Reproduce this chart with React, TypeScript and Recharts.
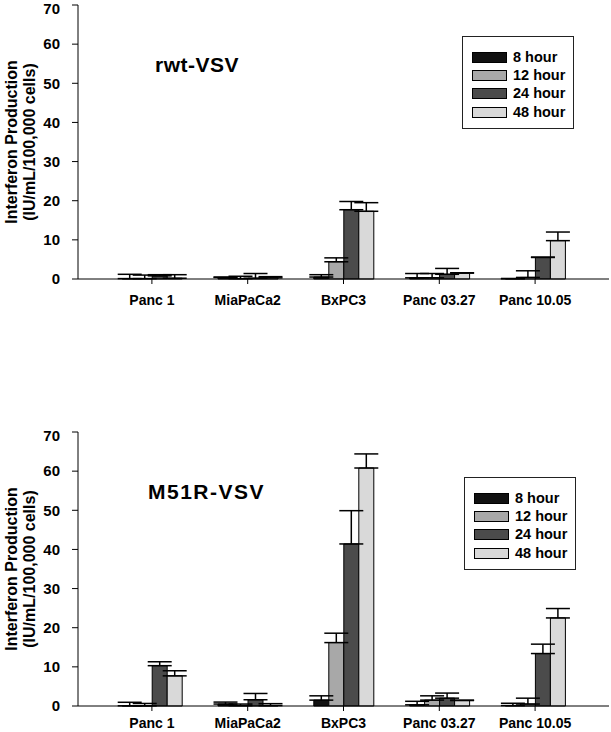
import React from 'react';
import { BarChart, Bar, XAxis, YAxis, ErrorBar, Legend } from 'recharts';

const cellLines = ['Panc 1', 'MiaPaCa2', 'BxPC3', 'Panc 03.27', 'Panc 10.05'];
const hourLabels = ['8 hour', '12 hour', '24 hour', '48 hour'];
const yTicks = [0, 10, 20, 30, 40, 50, 60, 70];

// rwt-VSV
const rwt8 = [0.1, 0.4, 0.5, 0.3, 0.1];
const rwt12 = [0.1, 0.1, 4.4, 0.3, 0.4];
const rwt24 = [0.8, 0.2, 17.7, 1.2, 5.5];
const rwt48 = [0.2, 0.3, 17.3, 1.5, 9.8];
const rwtErr8 = [1.1, 0.1, 0.6, 1.1, 0.0];
const rwtErr12 = [0.9, 0.6, 1.0, 1.1, 1.7];
const rwtErr24 = [0.3, 1.2, 2.1, 1.5, 0.1];
const rwtErr48 = [0.9, 0.3, 2.2, 0.1, 2.2];

// M51R-VSV
const m51r8 = [0.05, 0.5, 1.5, 0.3, 0.1];
const m51r12 = [0.05, 0.1, 16.2, 1.5, 0.5];
const m51r24 = [10.3, 1.6, 41.4, 2.0, 13.4];
const m51r48 = [7.7, 0.1, 60.8, 1.4, 22.5];
const m51rErr8 = [0.9, 0.5, 1.1, 0.9, 0.6];
const m51rErr12 = [0.6, 0.4, 2.4, 1.1, 1.5];
const m51rErr24 = [1.0, 1.6, 8.5, 1.3, 2.4];
const m51rErr48 = [1.3, 0.5, 3.6, 0.1, 2.4];

const COLORS = ['#111111', '#a8a8a8', '#4b4b4b', '#d9d9d9'];
const FONT = '"Liberation Sans", Arial, sans-serif';

const buildData = (vals: number[][], errs: number[][]) =>
  cellLines.map((name, i) => ({
    name,
    h8: vals[0][i], h12: vals[1][i], h24: vals[2][i], h48: vals[3][i],
    e8: [0, errs[0][i]], e12: [0, errs[1][i]], e24: [0, errs[2][i]], e48: [0, errs[3][i]],
  }));

const rwtData = buildData([rwt8, rwt12, rwt24, rwt48], [rwtErr8, rwtErr12, rwtErr24, rwtErr48]);
const m51rData = buildData([m51r8, m51r12, m51r24, m51r48], [m51rErr8, m51rErr12, m51rErr24, m51rErr48]);

const LegendBox = () => (
  <div style={{ border: '1.5px solid #222', width: 112, height: 93, boxSizing: 'border-box', paddingTop: 11, paddingLeft: 9, background: '#fff' }}>
    {hourLabels.map((lab, i) => (
      <div key={lab} style={{ display: 'flex', alignItems: 'center', height: 18.3 }}>
        <div style={{ width: 35, height: 11, background: COLORS[i], border: '1px solid #000', boxSizing: 'border-box' }} />
        <span style={{ marginLeft: 6, fontSize: 14.5, fontWeight: 'bold', fontFamily: FONT, color: '#000', lineHeight: 1 }}>{lab}</span>
      </div>
    ))}
  </div>
);

const YLabel = (props: any) => {
  const cy = props.viewBox ? props.viewBox.y + props.viewBox.height / 2 : 142;
  const style = { fontSize: 16, fontWeight: 'bold' as const, fontFamily: FONT, fill: '#000' };
  return (
    <g>
      <text x={11} y={cy} transform={`rotate(-90 11 ${cy})`} textAnchor="middle" dominantBaseline="central" {...style}>
        Interferon Production
      </text>
      <text x={29} y={cy} transform={`rotate(-90 29 ${cy})`} textAnchor="middle" dominantBaseline="central" {...style}>
        (IU/mL/100,000 cells)
      </text>
    </g>
  );
};

const Panel: React.FC<{ data: any[]; top: number; title: string; titleLeft: number; titleSpacing: number; legendLeft: number; legendTop: number; labelGap: number }> = ({ data, top, title, titleLeft, titleSpacing, legendLeft, legendTop, labelGap }) => (
  <div style={{ position: 'absolute', left: 0, top, width: 611, height: 311 }}>
    <BarChart width={611} height={311} data={data} margin={{ top: 5, right: 2, left: 0, bottom: 2 }} barCategoryGap="19%" barGap={0}>
      <XAxis
        dataKey="name"
        stroke="#000"
        padding={{ left: 26, right: 26 }}
        tickSize={5}
        tickMargin={labelGap}
        height={30}
        interval={0}
        tick={{ fontSize: 14, fontWeight: 'bold', fill: '#000', fontFamily: FONT }}
      />
      <YAxis
        domain={[0, 70]}
        ticks={yTicks}
        width={78}
        stroke="#000"
        tickSize={6}
        tickMargin={12}
        tick={{ fontSize: 15, fontWeight: 'bold', fill: '#000', fontFamily: FONT }}
        label={<YLabel />}
      />
      <Legend
        layout="vertical"
        align="center"
        verticalAlign="middle"
        content={() => <LegendBox />}
        wrapperStyle={{ position: 'absolute', left: legendLeft, top: legendTop, width: 112, height: 93 }}
      />
      {['h8', 'h12', 'h24', 'h48'].map((k, i) => (
        <Bar key={k} dataKey={k} name={hourLabels[i]} fill={COLORS[i]} stroke="#000" strokeWidth={1} isAnimationActive={false}>
          <ErrorBar dataKey={'e' + k.slice(1)} width={12} stroke="#000" strokeWidth={1.5} direction="y" isAnimationActive={false} />
        </Bar>
      ))}
    </BarChart>
    <div style={{ position: 'absolute', left: titleLeft, top: 59 - 5, fontFamily: FONT, fontWeight: 'bold', fontSize: 21, lineHeight: '21px', letterSpacing: titleSpacing, color: '#000' }}>
      {title}
    </div>
  </div>
);

export default function App() {
  return (
    <div style={{ position: 'absolute', left: 0, top: 0, width: 611, height: 732, overflow: 'hidden', background: '#fff', fontFamily: FONT }}>
      <Panel data={rwtData} top={0} title="rwt-VSV" titleLeft={155} titleSpacing={0.5} legendLeft={462} legendTop={36} labelGap={11} />
      <Panel data={m51rData} top={427} title="M51R-VSV" titleLeft={148} titleSpacing={1.5} legendLeft={464} legendTop={50} labelGap={7} />
    </div>
  );
}
